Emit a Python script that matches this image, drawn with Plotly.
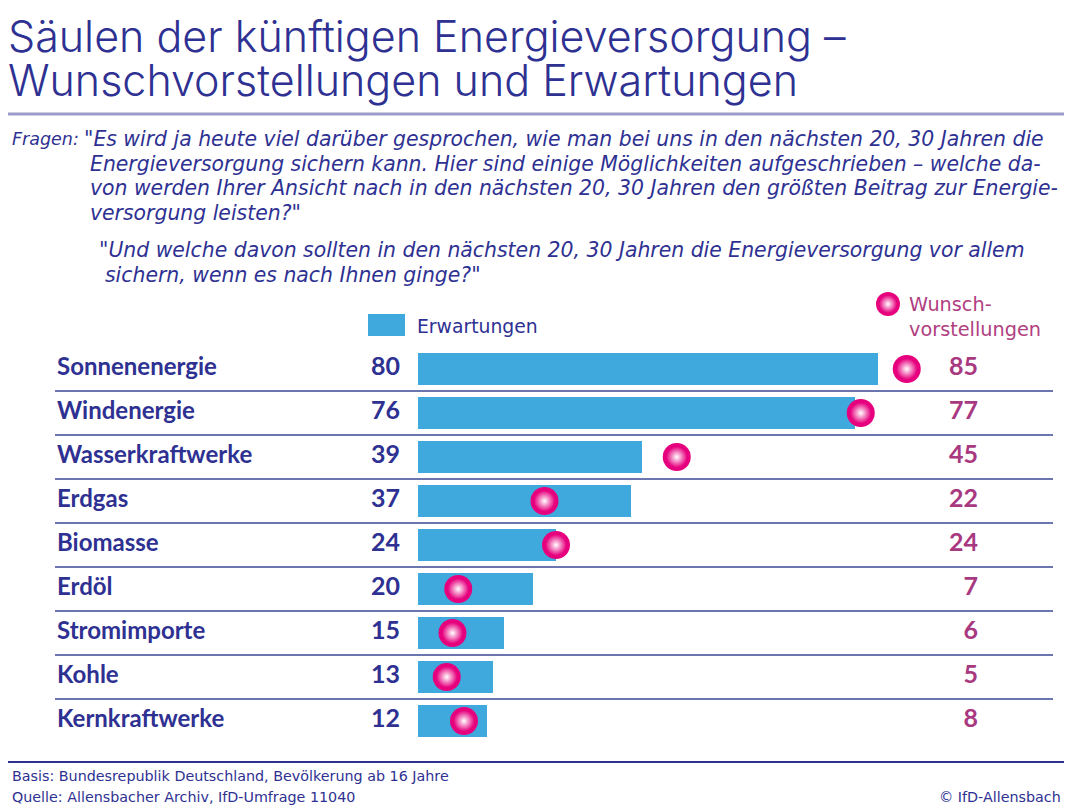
import plotly.graph_objects as go

# ---- data ----
categories = ["Sonnenenergie", "Windenergie", "Wasserkraftwerke", "Erdgas", "Biomasse",
              "Erdöl", "Stromimporte", "Kohle", "Kernkraftwerke"]
erwartungen = [80, 76, 39, 37, 24, 20, 15, 13, 12]
wunsch = [85, 77, 45, 22, 24, 7, 6, 5, 8]

title_lines = ["Säulen der künftigen Energieversorgung –", "Wunschvorstellungen und Erwartungen"]
frage1 = ['"Es wird ja heute viel darüber gesprochen, wie man bei uns in den nächsten 20, 30 Jahren die',
          'Energieversorgung sichern kann. Hier sind einige Möglichkeiten aufgeschrieben – welche da-',
          'von werden Ihrer Ansicht nach in den nächsten 20, 30 Jahren den größten Beitrag zur Energie-',
          'versorgung leisten?"']
frage2 = ['"Und welche davon sollten in den nächsten 20, 30 Jahren die Energieversorgung vor allem',
          'sichern, wenn es nach Ihnen ginge?"']
basis = "Basis: Bundesrepublik Deutschland, Bevölkerung ab 16 Jahre"
quelle = "Quelle: Allensbacher Archiv, IfD-Umfrage 11040"
copyright_txt = "© IfD-Allensbach"

# ---- layout geometry (reference pixels; page body has an 8px margin) ----
OFF = 8
W, H = 1072 - OFF, 808 - OFF
X0, PXU = 418, 5.75          # reference pixel of value 0, pixels per percent
ROW0, ROWH = 369, 44         # first row centre, row spacing

DARK = "#2e3192"
BLUE = "#3fa9dd"
PINK = "#e6007e"
MAG = "#a8387f"
LBL = "Lato"
TXT = "DejaVu Sans"
TITLE = "Inter"


def xv(px):
    return (px - X0) / PXU


def xp(px):
    return (px - OFF) / W


def yp(p):
    return 1 - (p - OFF) / H


fig = go.Figure()

fig.add_trace(go.Bar(
    y=categories, x=erwartungen, orientation="h", width=32 / ROWH,
    marker=dict(color=BLUE, line=dict(width=0)), hoverinfo="skip"))

# wish markers: solid ball + highlight
fig.add_trace(go.Scatter(
    y=categories, x=wunsch, mode="markers",
    marker=dict(size=28, color=PINK, line=dict(width=0)), hoverinfo="skip"))
fig.add_trace(go.Scatter(
    y=categories, x=wunsch, mode="markers",
    marker=dict(size=21, color=PINK, line=dict(width=0),
                gradient=dict(type="radial", color="white")), hoverinfo="skip"))

# category labels
fig.add_trace(go.Scatter(
    y=categories, x=[xv(57)] * len(categories), mode="text", text=categories,
    textposition="middle right",
    textfont=dict(family=LBL, size=24, color=DARK, weight="bold"), hoverinfo="skip"))
# left values
fig.add_trace(go.Scatter(
    y=categories, x=[xv(400)] * len(categories), mode="text",
    text=[str(v) for v in erwartungen], textposition="middle left",
    textfont=dict(family=LBL, size=25, color=DARK, weight="bold"), hoverinfo="skip"))
# right values
fig.add_trace(go.Scatter(
    y=categories, x=[xv(978)] * len(categories), mode="text",
    text=[str(v) for v in wunsch], textposition="middle left",
    textfont=dict(family=LBL, size=25, color=MAG, weight="bold"), hoverinfo="skip"))

# legend ball on pixel overlay axis
fig.add_trace(go.Scatter(
    x=[xv(888)], y=[304], yaxis="y2", mode="markers",
    marker=dict(size=24, color=PINK, line=dict(width=0)), hoverinfo="skip"))
fig.add_trace(go.Scatter(
    x=[xv(888)], y=[304], yaxis="y2", mode="markers",
    marker=dict(size=18, color=PINK, line=dict(width=0),
                gradient=dict(type="radial", color="white")), hoverinfo="skip"))

shapes = []
# row separators
for i in range(len(categories) - 1):
    shapes.append(dict(type="line", xref="paper", yref="y",
                       x0=xp(55), x1=xp(1053), y0=i + 0.5, y1=i + 0.5,
                       line=dict(color="#3a4796", width=1.3)))
# title rule
shapes.append(dict(type="line", xref="paper", yref="paper", x0=0, x1=1,
                   y0=yp(114), y1=yp(114), line=dict(color="#9b9bcb", width=3)))
# footer rule
shapes.append(dict(type="line", xref="paper", yref="paper", x0=0, x1=1,
                   y0=yp(762), y1=yp(762), line=dict(color=DARK, width=2)))
# legend square
shapes.append(dict(type="rect", xref="paper", yref="paper", x0=xp(368), x1=xp(405),
                   y0=yp(336), y1=yp(314), fillcolor=BLUE, line=dict(width=0)))

ann = []


def txt(t, x, y, size, color=DARK, xanchor="left", style="normal", weight="normal", family=TXT):
    ann.append(dict(text=t, x=xp(x), y=yp(y), xref="paper", yref="paper",
                    xanchor=xanchor, yanchor="middle", showarrow=False,
                    font=dict(family=family, size=size, color=color, style=style, weight=weight)))


txt(title_lines[0], 6, 36, 43, family=TITLE, weight=300)
txt(title_lines[1], 6, 80, 43, family=TITLE, weight=300)

txt("Fragen:", 10, 139, 17.5, style="italic")
for i, line in enumerate(frage1):
    txt(line, 82 if i == 0 else 88, 139 + i * 24.7, 20.4, style="italic")
for i, line in enumerate(frage2):
    txt(line, 97 if i == 0 else 103, 250 + i * 25, 20.4, style="italic")

txt("Erwartungen", 415, 326, 18.8)
txt("Wunsch-", 907, 304, 19.3, color="#b0407f")
txt("vorstellungen", 907, 329, 19.3, color="#b0407f")

txt(basis, 10, 776, 14.3)
txt(quelle, 10, 797, 14.3)
txt(copyright_txt, 1063, 797, 14.3, xanchor="right")

fig.update_layout(
    width=W, height=H, margin=dict(l=0, r=0, t=0, b=0),
    paper_bgcolor="white", plot_bgcolor="white", showlegend=False,
    xaxis=dict(range=[xv(OFF), xv(OFF + W)], visible=False, fixedrange=True),
    yaxis=dict(type="category", categoryorder="array", categoryarray=categories,
               range=[(OFF + H - ROW0) / ROWH, (OFF - ROW0) / ROWH], visible=False),
    yaxis2=dict(range=[OFF + H, OFF], overlaying="y", visible=False),
    shapes=shapes, annotations=ann, bargap=0,
)

fig.write_html("out.html")
